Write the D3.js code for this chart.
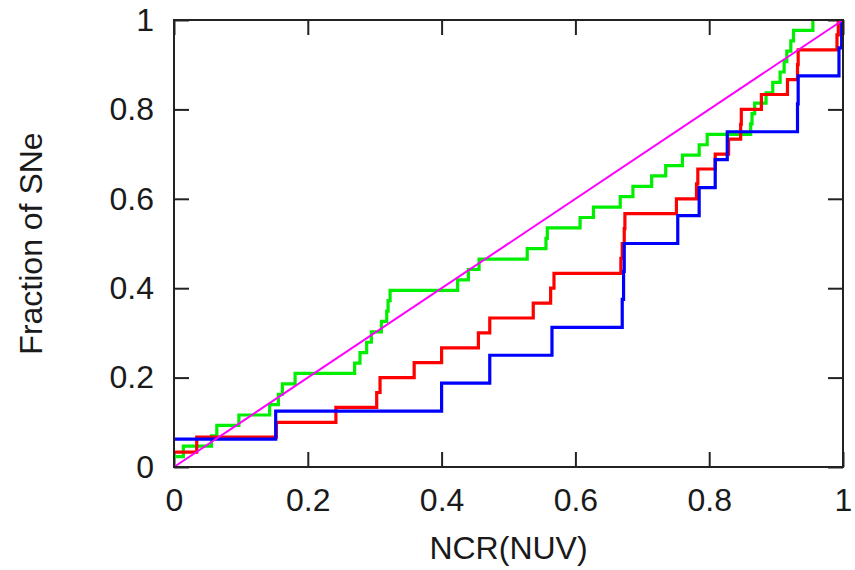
<!DOCTYPE html>
<html>
<head>
  <meta charset="utf-8">
  <title>Fraction of SNe vs NCR(NUV)</title>
  <script src="https://cdn.jsdelivr.net/npm/d3@7"></script>
  <style type="text/css">
    body {
      margin: 0;
      background-color: white;
    }

    text {
      font-family: "Liberation Sans", Arial, Helvetica, sans-serif;
      fill: #1a1a1a;
    }

    .tick line {
      stroke: #222;
      stroke-width: 2px;
    }

    .frame {
      fill: none;
      stroke: #222;
      stroke-width: 2px;
    }

    .step {
      fill: none;
      stroke-width: 3.2px;
    }
  </style>
</head>
<body>
  <div class="chart"></div>

  <script type="text/javascript">

    // sorted NCR(NUV) values for each sample
    var greenNCR = [0, 0.014, 0.056, 0.064, 0.097, 0.143, 0.156, 0.162, 0.181, 0.270,
                    0.278, 0.288, 0.295, 0.310, 0.318, 0.320, 0.323, 0.424, 0.440, 0.456,
                    0.528, 0.556, 0.558, 0.607, 0.627, 0.667, 0.686, 0.714, 0.735, 0.760,
                    0.785, 0.797, 0.862, 0.864, 0.868, 0.885, 0.895, 0.906, 0.912, 0.916,
                    0.922, 0.926, 0.955];
    var redNCR = [0, 0.034, 0.153, 0.242, 0.303, 0.308, 0.359, 0.400, 0.455, 0.472,
                  0.537, 0.563, 0.568, 0.668, 0.670, 0.673, 0.674, 0.751, 0.781, 0.783,
                  0.809, 0.829, 0.847, 0.848, 0.878, 0.917, 0.932, 0.933, 0.991, 0.993];
    var blueNCR = [0, 0.152, 0.400, 0.472, 0.565, 0.670, 0.672, 0.673, 0.753, 0.785,
                   0.809, 0.827, 0.932, 0.933, 0.994, 0.998];
    var diagonal = [0, 1];

    var xTicks = [0, 0.2, 0.4, 0.6, 0.8, 1];
    var yTicks = [0, 0.2, 0.4, 0.6, 0.8, 1];

    var margin = { top: 20, left: 174, bottom: 103, right: 12 };
    var svgWidth = 855;
    var svgHeight = 570;
    var width = svgWidth - margin.left - margin.right;
    var height = svgHeight - margin.top - margin.bottom;

    var svg = d3.select('.chart').append('svg')
      .attr('width', svgWidth).attr('height', svgHeight)
      .append('g')
        .attr('transform', 'translate(' + margin.left + ',' + margin.top + ')');

    var x = d3.scaleLinear().domain([0, 1]).range([0, width]);
    var y = d3.scaleLinear().domain([0, 1]).range([height, 0]);
    var fmt = d3.format('~g');

    // ticks point inward on all four sides
    function styleAxis(g) {
      g.select('.domain').remove();
      g.selectAll('.tick text').style('font-size', '32px');
    }

    svg.append('g')
      .attr('transform', 'translate(0,' + height + ')')
      .call(d3.axisBottom(x).tickValues(xTicks).tickFormat(fmt).tickSize(-15).tickPadding(21))
      .call(styleAxis);
    svg.append('g')
      .call(d3.axisLeft(y).tickValues(yTicks).tickFormat(fmt).tickSize(-15).tickPadding(20))
      .call(styleAxis);
    svg.append('g')
      .call(d3.axisTop(x).tickValues(xTicks).tickFormat('').tickSize(-15))
      .call(styleAxis);
    svg.append('g')
      .attr('transform', 'translate(' + width + ',0)')
      .call(d3.axisRight(y).tickValues(yTicks).tickFormat('').tickSize(-15))
      .call(styleAxis);

    // cumulative step curves
    function cdf(values) {
      return values.map(function (v, i) {
        return [v, (i + 1) / values.length];
      });
    }

    var stepLine = d3.line()
      .x(function (d) { return x(d[0]); })
      .y(function (d) { return y(d[1]); })
      .curve(d3.curveStepAfter);

    var series = [
      { name: 'green', color: '#00ee00', data: cdf(greenNCR) },
      { name: 'red', color: '#ff0000', data: cdf(redNCR) },
      { name: 'blue', color: '#0000ff', data: cdf(blueNCR) }
    ];

    svg.append('g').selectAll('.step')
      .data(series).enter().append('path')
        .attr('class', 'step')
        .attr('d', function (d) { return stepLine(d.data); })
        .style('stroke', function (d) { return d.color; });

    svg.append('path')
      .attr('d', d3.line()
        .x(function (d) { return x(d); })
        .y(function (d) { return y(d); })(diagonal))
      .style('fill', 'none')
      .style('stroke', '#ff00ff')
      .style('stroke-width', 2);

    svg.append('rect')
      .attr('class', 'frame')
      .attr('width', width)
      .attr('height', height);

    svg.append('text')
      .attr('x', width / 2)
      .attr('y', height + 92)
      .style('text-anchor', 'middle')
      .style('font-size', '32px')
      .text('NCR(NUV)');

    svg.append('text')
      .attr('transform', 'translate(' + (42 - margin.left) + ',' + (height / 2) + ') rotate(-90)')
      .style('text-anchor', 'middle')
      .style('font-size', '32px')
      .text('Fraction of SNe');
  </script>
</body>
</html>
